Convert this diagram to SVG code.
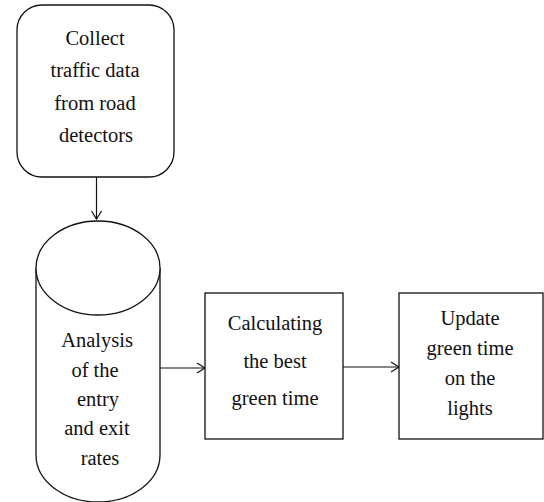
<svg xmlns="http://www.w3.org/2000/svg" width="544" height="502" viewBox="0 0 544 502">
<defs>
<style>
.shape{fill:#fff;stroke:#111;stroke-width:1.3}
.line{fill:none;stroke:#111;stroke-width:1.2}
text{font-family:"Liberation Serif","Times New Roman",serif;font-size:20.5px;fill:#111;text-anchor:middle}
</style>
<marker id="arr" markerWidth="12" markerHeight="12" refX="10" refY="6" orient="auto" markerUnits="userSpaceOnUse">
<path d="M2,1 L10,6 L2,11" fill="none" stroke="#111" stroke-width="1.2"/>
</marker>
</defs>
<rect width="544" height="502" fill="#fff"/>
<g id="connectors">
<line class="line" x1="96.5" y1="177" x2="96.5" y2="219" marker-end="url(#arr)"/>
<line class="line" x1="160" y1="368" x2="205" y2="368" marker-end="url(#arr)"/>
<line class="line" x1="343" y1="367" x2="399" y2="367" marker-end="url(#arr)"/>
</g>
<g id="collect">
<rect class="shape" x="17" y="5" width="157" height="172" rx="25" ry="25"/>
<text x="95" y="45">Collect</text>
<text x="95" y="77">traffic data</text>
<text x="95" y="110">from road</text>
<text x="96" y="142">detectors</text>
</g>
<g id="analysis">
<path class="shape" d="M36,268 L36,455 A62,47 0 0 0 160,455 L160,268"/>
<ellipse class="shape" cx="98" cy="268" rx="62" ry="47"/>
<text x="97" y="347">Analysis</text>
<text x="95" y="377">of the</text>
<text x="98" y="406">entry</text>
<text x="97" y="435">and exit</text>
<text x="100" y="465">rates</text>
</g>
<g id="calculate">
<rect class="shape" x="205" y="293" width="138" height="146"/>
<text x="275" y="330">Calculating</text>
<text x="275" y="368">the best</text>
<text x="275" y="405">green time</text>
</g>
<g id="update">
<rect class="shape" x="399" y="293" width="144" height="146"/>
<text x="470" y="325">Update</text>
<text x="470" y="355">green time</text>
<text x="470" y="385">on the</text>
<text x="470" y="415">lights</text>
</g>
</svg>
